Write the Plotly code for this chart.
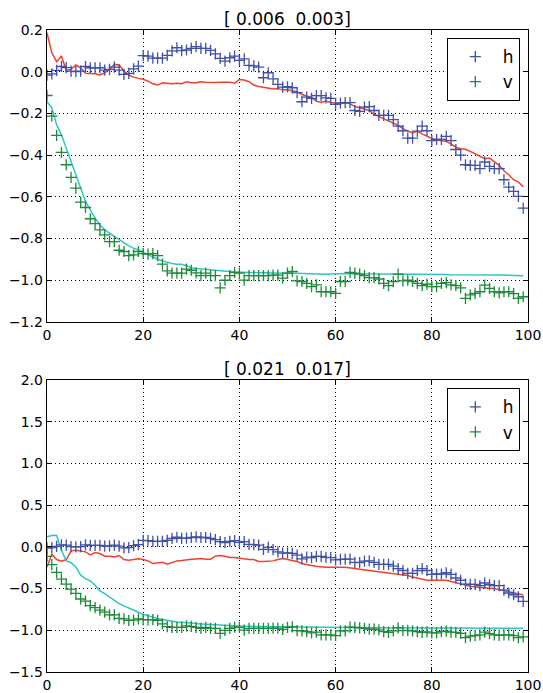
import plotly.graph_objects as go
from plotly.subplots import make_subplots

x = list(range(100))

h_obs = [-0.016, -0.010, 0.006, 0.025, 0.020, 0.003, 0.000, 0.003, 0.025, 0.019,
         0.019, 0.019, 0.008, 0.011, 0.022, 0.008, -0.013, -0.008, 0.014, 0.027,
         0.077, 0.075, 0.065, 0.065, 0.065, 0.078, 0.100, 0.115, 0.101, 0.104,
         0.112, 0.120, 0.112, 0.112, 0.102, 0.086, 0.064, 0.051, 0.067, 0.075,
         0.054, 0.062, 0.030, 0.028, 0.022, -0.029, -0.005, -0.034, -0.061, -0.074,
         -0.072, -0.077, -0.100, -0.144, -0.122, -0.128, -0.115, -0.115, -0.125, -0.128,
         -0.157, -0.151, -0.148, -0.148, -0.186, -0.190, -0.170, -0.167, -0.186, -0.209,
         -0.209, -0.209, -0.230, -0.261, -0.283, -0.318, -0.318, -0.285, -0.261, -0.283,
         -0.330, -0.325, -0.325, -0.310, -0.330, -0.373, -0.400, -0.446, -0.449, -0.449,
         -0.465, -0.433, -0.454, -0.465, -0.465, -0.518, -0.553, -0.574, -0.598, -0.654]

v_obs = [-0.114, -0.213, -0.305, -0.387, -0.446, -0.507, -0.558, -0.625, -0.651, -0.705,
         -0.728, -0.758, -0.782, -0.815, -0.815, -0.856, -0.862, -0.882, -0.878, -0.862,
         -0.872, -0.875, -0.872, -0.882, -0.923, -0.955, -0.966, -0.966, -0.966, -0.947,
         -0.952, -0.965, -0.978, -0.966, -0.978, -0.978, -1.036, -1.000, -0.978, -0.962,
         -0.966, -0.999, -0.978, -0.978, -0.978, -0.978, -0.978, -0.975, -0.975, -0.990,
         -0.966, -0.958, -1.003, -1.006, -1.015, -1.030, -1.022, -1.055, -1.055, -1.055,
         -1.063, -1.006, -1.006, -0.962, -0.966, -0.971, -0.978, -0.987, -0.987, -0.994,
         -1.015, -1.026, -1.006, -0.971, -1.003, -1.000, -1.006, -1.015, -1.026, -1.019,
         -1.030, -1.030, -1.015, -1.011, -1.022, -1.026, -1.036, -1.087, -1.070, -1.063,
         -1.055, -1.023, -1.039, -1.055, -1.060, -1.055, -1.055, -1.064, -1.087, -1.079]

h_pred_top = [0.187, 0.091, 0.048, 0.075, 0.006, 0.011, 0.032, 0.019, -0.007, -0.007,
              -0.010, -0.016, -0.005, 0.011, 0.035, 0.032, 0.003, -0.016, -0.026, -0.032,
              -0.036, -0.045, -0.058, -0.064, -0.053, -0.055, -0.058, -0.055, -0.058, -0.048,
              -0.053, -0.053, -0.048, -0.050, -0.052, -0.052, -0.050, -0.050, -0.050, -0.055,
              -0.037, -0.040, -0.048, -0.064, -0.071, -0.074, -0.077, -0.083, -0.080, -0.087,
              -0.087, -0.090, -0.096, -0.109, -0.116, -0.125, -0.141, -0.148, -0.141, -0.148,
              -0.151, -0.151, -0.148, -0.154, -0.167, -0.173, -0.180, -0.186, -0.205, -0.215,
              -0.224, -0.234, -0.247, -0.257, -0.273, -0.285, -0.292, -0.285, -0.298, -0.311,
              -0.320, -0.327, -0.330, -0.334, -0.346, -0.362, -0.369, -0.372, -0.382, -0.394,
              -0.407, -0.417, -0.414, -0.430, -0.449, -0.475, -0.494, -0.518, -0.529, -0.551]

v_pred_top = [-0.144, -0.173, -0.254, -0.302, -0.366, -0.430, -0.486, -0.558, -0.622, -0.662,
              -0.702, -0.734, -0.758, -0.774, -0.790, -0.806, -0.822, -0.835, -0.846, -0.854,
              -0.866, -0.878, -0.890, -0.899, -0.907, -0.914, -0.920, -0.923, -0.923, -0.930,
              -0.940, -0.944, -0.947, -0.947, -0.950, -0.952, -0.955, -0.957, -0.958, -0.960,
              -0.962, -0.962, -0.963, -0.963, -0.964, -0.964, -0.965, -0.965, -0.966, -0.966,
              -0.965, -0.966, -0.967, -0.968, -0.968, -0.969, -0.970, -0.971, -0.971, -0.970,
              -0.969, -0.968, -0.967, -0.968, -0.969, -0.969, -0.970, -0.970, -0.971, -0.971,
              -0.970, -0.970, -0.969, -0.969, -0.970, -0.970, -0.971, -0.971, -0.971, -0.970,
              -0.970, -0.971, -0.972, -0.972, -0.973, -0.973, -0.972, -0.972, -0.973, -0.974,
              -0.975, -0.974, -0.973, -0.973, -0.974, -0.975, -0.976, -0.976, -0.977, -0.978]

h_pred_bot = [-0.240, -0.088, -0.152, -0.172, -0.152, -0.048, -0.040, -0.048, -0.060, -0.096,
              -0.068, -0.080, -0.112, -0.112, -0.120, -0.104, -0.152, -0.160, -0.152, -0.144,
              -0.152, -0.168, -0.200, -0.192, -0.184, -0.208, -0.184, -0.168, -0.164, -0.152,
              -0.148, -0.144, -0.140, -0.148, -0.148, -0.112, -0.104, -0.112, -0.128, -0.128,
              -0.136, -0.152, -0.152, -0.152, -0.176, -0.176, -0.176, -0.168, -0.152, -0.140,
              -0.152, -0.160, -0.176, -0.200, -0.216, -0.224, -0.232, -0.240, -0.244, -0.244,
              -0.248, -0.244, -0.244, -0.248, -0.260, -0.268, -0.276, -0.280, -0.288, -0.296,
              -0.300, -0.308, -0.320, -0.328, -0.336, -0.344, -0.360, -0.376, -0.392, -0.400,
              -0.400, -0.400, -0.400, -0.400, -0.416, -0.432, -0.448, -0.464, -0.472, -0.480,
              -0.488, -0.492, -0.496, -0.500, -0.512, -0.528, -0.536, -0.548, -0.560, -0.576]

v_pred_bot = [0.120, 0.136, 0.140, -0.040, -0.168, -0.190, -0.240, -0.340, -0.380, -0.408,
              -0.460, -0.528, -0.560, -0.600, -0.640, -0.680, -0.708, -0.736, -0.760, -0.784,
              -0.808, -0.828, -0.844, -0.860, -0.872, -0.884, -0.892, -0.900, -0.904, -0.912,
              -0.916, -0.920, -0.924, -0.928, -0.932, -0.936, -0.940, -0.942, -0.945, -0.948,
              -0.950, -0.952, -0.953, -0.954, -0.955, -0.956, -0.957, -0.958, -0.958, -0.959,
              -0.960, -0.960, -0.961, -0.962, -0.962, -0.963, -0.964, -0.965, -0.966, -0.967,
              -0.968, -0.968, -0.968, -0.969, -0.969, -0.969, -0.970, -0.970, -0.970, -0.970,
              -0.971, -0.971, -0.971, -0.971, -0.972, -0.972, -0.972, -0.972, -0.972, -0.973,
              -0.973, -0.973, -0.973, -0.973, -0.974, -0.974, -0.974, -0.974, -0.974, -0.974,
              -0.975, -0.975, -0.975, -0.975, -0.975, -0.975, -0.975, -0.975, -0.976, -0.976]

titles = ["[ 0.006  0.003]", "[ 0.021  0.017]"]
x_ticks = [0, 20, 40, 60, 80, 100]
y_ticks_top = [0.2, 0.0, -0.2, -0.4, -0.6, -0.8, -1.0, -1.2]
y_ticks_bot = [2.0, 1.5, 1.0, 0.5, 0.0, -0.5, -1.0, -1.5]

BLUE = "#3f51a8"
GREEN = "#1e8a3a"
RED = "#f2412a"
CYAN = "#30c4c6"
FONT = "DejaVu Sans"

fig = make_subplots(rows=2, cols=1, vertical_spacing=0.0)

preds = [(h_pred_top, v_pred_top), (h_pred_bot, v_pred_bot)]
legends = ["legend", "legend2"]
for i, (hp, vp) in enumerate(preds):
    r = i + 1
    fig.add_trace(go.Scatter(x=x, y=hp, mode="lines", line=dict(color=RED, width=1.5),
                             showlegend=False), row=r, col=1)
    fig.add_trace(go.Scatter(x=x, y=vp, mode="lines", line=dict(color=CYAN, width=1.5),
                             showlegend=False), row=r, col=1)
    fig.add_trace(go.Scatter(x=x, y=h_obs, mode="markers", name="h",
                             marker=dict(symbol="cross-thin", size=8,
                                         line=dict(color=BLUE, width=1.3)),
                             legend=legends[i]), row=r, col=1)
    fig.add_trace(go.Scatter(x=x, y=v_obs, mode="markers", name="v",
                             marker=dict(symbol="cross-thin", size=8,
                                         line=dict(color=GREEN, width=1.3)),
                             legend=legends[i]), row=r, col=1)

axis_common = dict(showline=True, linecolor="black", linewidth=1.3, mirror="ticks",
                   ticks="inside", ticklen=5, tickwidth=1, tickcolor="black",
                   showgrid=True, gridcolor="black", griddash="1px,3px", gridwidth=1,
                   zeroline=False, automargin=False,
                   tickfont=dict(family=FONT, size=14, color="black"))

fig.update_xaxes(range=[0, 100], tickvals=x_ticks, tickformat="d", **axis_common)
fig.update_yaxes(range=[-1.2, 0.2], tickvals=y_ticks_top, tickformat=".1f", row=1, col=1, **axis_common)
fig.update_yaxes(range=[-1.5, 2.0], tickvals=y_ticks_bot, tickformat=".1f", row=2, col=1, **axis_common)

fig.update_layout(
    width=543, height=693,
    margin=dict(l=47, r=15, t=30, b=21),
    paper_bgcolor="white", plot_bgcolor="white",
    font=dict(family=FONT, color="black"),
    hovermode=False,
    xaxis=dict(domain=[0, 1]),
    yaxis=dict(domain=[0.5452, 1.0]),
    yaxis2=dict(domain=[0.0, 0.4548]),
    legend=dict(x=0.983, y=0.9875, xanchor="right", yanchor="top",
                bordercolor="black", borderwidth=1, bgcolor="white",
                font=dict(family=FONT, size=17), itemwidth=45, tracegroupgap=2),
    legend2=dict(x=0.983, y=0.442, xanchor="right", yanchor="top",
                 bordercolor="black", borderwidth=1, bgcolor="white",
                 font=dict(family=FONT, size=17), itemwidth=45, tracegroupgap=2),
    annotations=[
        dict(text=titles[0], x=0.5, y=1.0, xref="paper", yref="paper",
             xanchor="center", yanchor="bottom", yshift=-1, showarrow=False,
             font=dict(family=FONT, size=17, color="black")),
        dict(text=titles[1], x=0.5, y=0.4548, xref="paper", yref="paper",
             xanchor="center", yanchor="bottom", yshift=-1, showarrow=False,
             font=dict(family=FONT, size=17, color="black")),
    ],
)

fig.write_html("out.html", config={"displayModeBar": False, "staticPlot": True},
               post_script="document.body.style.margin='0';document.body.style.overflow='hidden';")
